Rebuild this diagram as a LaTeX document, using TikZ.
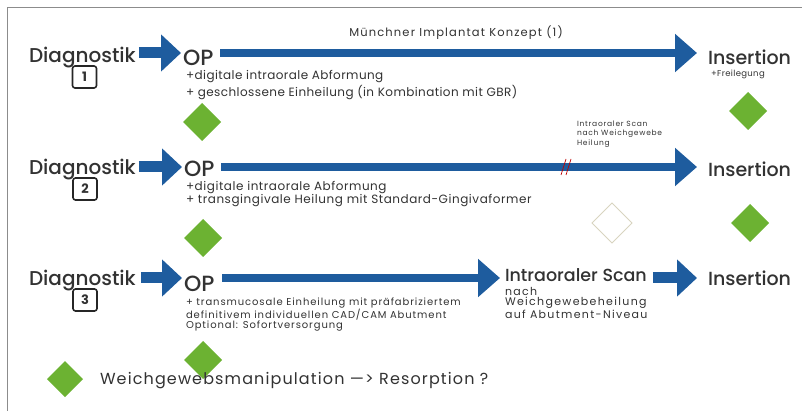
\documentclass[tikz,border=0pt]{standalone}
\usepackage{fontspec}
\setmainfont{Poppins}
\newfontfamily\heavy{Poppins Medium}
\usetikzlibrary{arrows.meta,shapes.geometric}
\definecolor{flowblue}{RGB}{30,92,158}
\definecolor{leafgreen}{RGB}{108,178,50}
\definecolor{ink}{RGB}{50,50,50}
\definecolor{framegray}{RGB}{140,140,140}
\definecolor{paleline}{RGB}{216,212,192}
% small size with extra tracking
\newcommand{\tracked}[3]{\fontsize{#1}{#2}\selectfont\addfontfeature{LetterSpace=#3}}
\begin{document}
\begin{tikzpicture}[x=1pt,y=-1pt,
  every node/.style={inner sep=0pt, outer sep=0pt, text=ink},
  stage/.style={anchor=base west, font=\heavy\fontsize{20}{20}\selectfont},
  endstage/.style={anchor=base west, font=\heavy\fontsize{19}{19}\selectfont},
  opnode/.style={anchor=base west, font=\heavy\fontsize{22}{22}\selectfont},
  numbox/.style={draw=black!85, line width=1.6pt, rounded corners=2.5pt,
    minimum width=24pt, minimum height=22pt, font=\fontsize{13}{13}\selectfont\bfseries},
  note/.style={anchor=north west, align=left},
  marker/.style={diamond, fill=leafgreen, minimum width=38pt, minimum height=38pt},
  blockarrow/.style={draw=flowblue, line width=11pt, -{Triangle[width=36pt,length=20pt]}},
  longarrow/.style={draw=flowblue, line width=8.5pt, -{Triangle[width=37pt,length=22pt]}},
]
% page and frame
\useasboundingbox (0,0) rectangle (802,411);
\draw[framegray, line width=1pt] (7.5,411) -- (7.5,7.5) -- (802,7.5);

% row axes
\coordinate (r1) at (0,53);
\coordinate (r2) at (0,167);
\coordinate (r3) at (0,278);

% ---------- row 1 ----------
\node[stage] (diag1) at (29,63) {Diagnostik};
\node[numbox] (num1) at (84.5,77) {1};
\node[opnode] (op1) at (183,66) {OP};
\node[endstage] (ins1) at (708,64.5) {Insertion};
\node[anchor=west, font=\tracked{8.5}{8.5}{4}] (frei1) at (711,74) {+Freilegung};
\node[note, font=\tracked{12}{12}{3.5}] (note1) at (186,70.5)
  {+digitale intraorale Abformung\\[1pt]+ geschlossene Einheilung (in Kombination mit GBR)};
\node[font=\tracked{11.5}{11.5}{10}] (title) at (456,33) {Münchner Implantat Konzept (1)};
\node[marker] (m1a) at (202,122) {};
\node[marker] (m1b) at (748,111) {};
\draw[blockarrow, shorten <=3pt, shorten >=2pt] (diag1.east |- r1) -- (op1.west |- r1);
\draw[longarrow, shorten <=7pt, shorten >=11pt] (op1.east |- r1) -- (ins1.west |- r1);

% ---------- row 2 ----------
\node[stage] (diag2) at (29,175) {Diagnostik};
\node[numbox] (num2) at (85,189) {2};
\node[opnode] (op2) at (184,176.5) {OP};
\node[endstage] (ins2) at (708,177) {Insertion};
\node[note, font=\tracked{12}{11}{4.5}] (note2) at (186,181)
  {+digitale intraorale Abformung\\+ transgingivale Heilung mit Standard-Gingivaformer};
\node[note, font=\tracked{7.5}{7.5}{10}] (scan2) at (577,121)
  {Intraoraler Scan\\[1.5pt]nach Weichgewebe\\[1.5pt]Heilung};
\node[marker] (m2a) at (203,238) {};
\node[diamond, draw=paleline, line width=1pt, minimum width=40pt, minimum height=40pt] (m2c) at (612,223) {};
\node[marker] (m2b) at (750,223) {};
\draw[blockarrow, shorten <=3pt, shorten >=2pt] (diag2.east |- r2) -- (op2.west |- r2);
\draw[longarrow, shorten <=7pt, shorten >=11pt] (op2.east |- r2) -- (ins2.west |- r2);
% interruption mark on the shaft
\draw[red!75!black, line width=0.7pt] (561,175) -- (566,159) (566,175) -- (571,159);

% ---------- row 3 ----------
\node[stage] (diag3) at (29,286) {Diagnostik};
\node[numbox] (num3) at (85,300) {3};
\node[opnode] (op3) at (184,291) {OP};
\node[anchor=base west, font=\heavy\fontsize{17.5}{17.5}\selectfont] (scan3) at (505,282) {Intraoraler Scan};
\node[endstage] (ins3) at (708,285) {Insertion};
\node[note, font=\tracked{10}{10.5}{9}] (note3) at (186,297.5)
  {+ transmucosale Einheilung mit präfabriziertem\\definitivem individuellen CAD/CAM Abutment\\Optional: Sofortversorgung};
\node[note, font=\tracked{11}{10.5}{12}] (scan3note) at (505,287)
  {nach\\Weichgewebeheilung\\auf Abutment-Niveau};
\node[marker] (m3a) at (203,360) {};
\draw[blockarrow, shorten <=5pt, shorten >=2pt] (diag3.east |- r3) -- (op3.west |- r3);
\draw[longarrow, shorten <=8pt, shorten >=5pt] (op3.east |- r3) -- (scan3.west |- r3);
\draw[blockarrow, shorten <=6pt, shorten >=11pt] (scan3.east |- r3) -- (ins3.west |- r3);

% ---------- key ----------
\node[marker, minimum width=36pt, minimum height=36pt] (key) at (65,379) {};
\node[anchor=west, font=\tracked{16}{16}{7}] (keytext) at (100,381)
  {Weichgewebsmanipulation —> Resorption ?};
\end{tikzpicture}
\end{document}
